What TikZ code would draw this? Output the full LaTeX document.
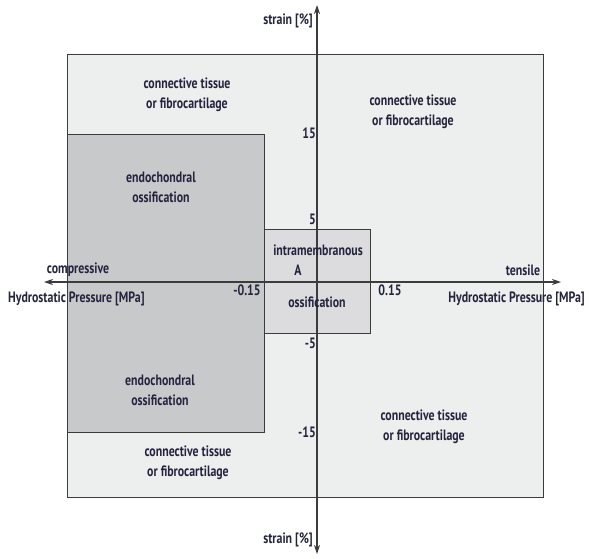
\documentclass[tikz,border=0pt]{standalone}
\usepackage{fontspec}
\setmainfont{PT Sans}[FakeStretch=0.79,UprightFont=* Bold]
\usepackage{tikz}
\usetikzlibrary{arrows.meta}
\definecolor{outerfill}{HTML}{EDEEEE}
\definecolor{endofill}{HTML}{C8C9CB}
\definecolor{intrafill}{HTML}{DCDCDE}
\definecolor{framecol}{HTML}{3C3C3C}
\definecolor{labelcol}{HTML}{24243E}

\begin{document}
\begin{tikzpicture}[x=1pt,y=-1pt,
    every node/.style={text=labelcol,inner sep=0pt,font=\fontsize{15}{20}\selectfont},
    region/.style={align=center},
    axis/.style={framecol,line width=1.2pt,{Stealth[length=9pt,width=6pt]}-{Stealth[length=9pt,width=6pt]}}]
  \useasboundingbox (0,0) rectangle (589,558);

  % Draw regions
  \draw[framecol,line width=0.9pt,fill=outerfill] (67,54) rectangle (543,497);
  \draw[framecol,line width=0.9pt,fill=endofill] (67,134) rectangle (264,432);
  \draw[framecol,line width=0.9pt,fill=intrafill] (264,229) rectangle (370,333);

  % Draw axes
  \coordinate (west) at (44,282);
  \coordinate (east) at (561,282);
  \coordinate (north) at (317,5);
  \coordinate (south) at (317,554);
  \draw[axis] (west) -- (east);
  \draw[axis] (north) -- (south);

  % Axis labels
  \node[anchor=east] (strainup) at (313,21) {strain [\%]};
  \node[anchor=east] (straindown) at (313,540) {strain [\%]};
  \node (comp) at (78,270) {compressive};
  \node (tens) at (523,270) {tensile};
  \node[anchor=west] (hpleft) at (8,299) {Hydrostatic Pressure [MPa]};
  \node[anchor=east] (hpright) at (585,299) {Hydrostatic Pressure [MPa]};

  % Ticks
  \node (pminus) at (247,290) {-0.15};
  \node (pplus) at (390,290) {0.15};
  \node[anchor=east] (sfifteen) at (316,133) {15};
  \node[anchor=east] (sfive) at (316,219) {5};
  \node[anchor=east] (smfive) at (316,343) {-5};
  \node[anchor=east] (smfifteen) at (316,432) {-15};

  % Label regions
  \node[region] (ctnw) at (187,95) {connective tissue\\or fibrocartilage};
  \node[region] (ctne) at (413,112) {connective tissue\\or fibrocartilage};
  \node[region] (ctse) at (424,427) {connective tissue\\or fibrocartilage};
  \node[region] (ctsw) at (188,463) {connective tissue\\or fibrocartilage};
  \node[region] (endoup) at (161,187) {endochondral\\ossification};
  \node[region] (endodown) at (160,390) {endochondral\\ossification};
  \node (intra) at (318,250) {intramembranous};
  \node (intraA) at (298,270) {A};
  \node (intraoss) at (317,302) {ossification};
\end{tikzpicture}
\end{document}
